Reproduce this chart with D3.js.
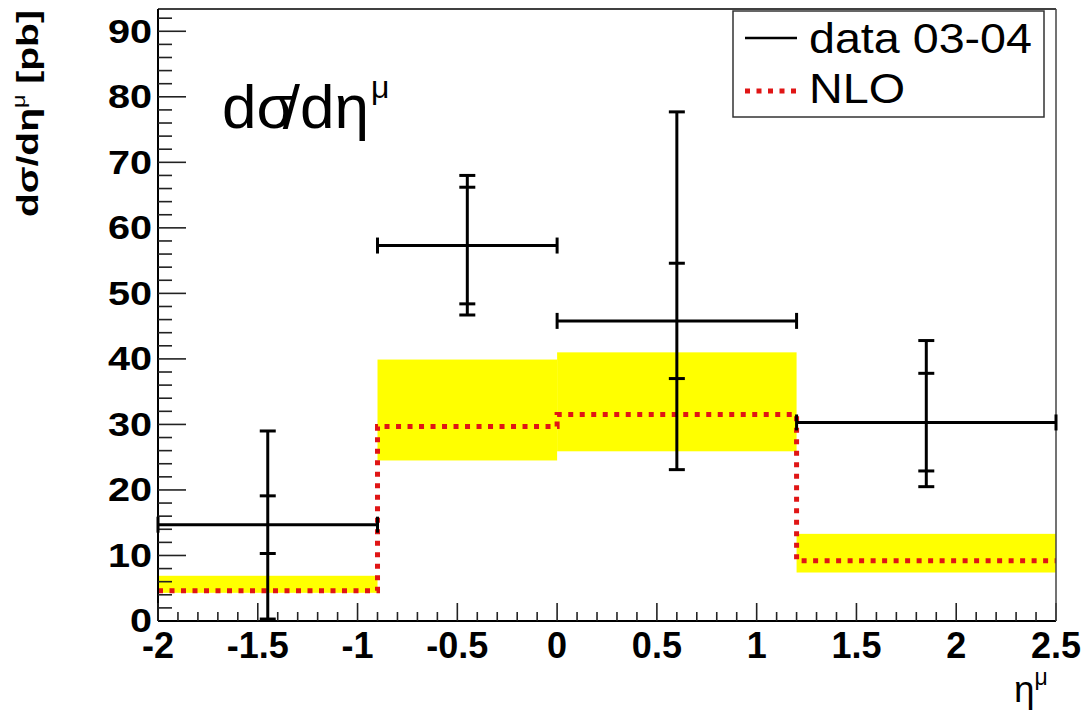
<!DOCTYPE html>
<html>
<head>
<meta charset="utf-8">
<script src="https://cdn.jsdelivr.net/npm/d3@7"></script>
<style>
  html, body { margin: 0; padding: 0; background: #fff; }
  svg { display: block; }
  text { font-family: "Liberation Sans", Arial, Helvetica, sans-serif; }
</style>
</head>
<body>
<svg id="chart" width="1084" height="715"></svg>
<script>
// Bin edges in eta^mu and the measured cross sections per bin
const binEdges = [-2, -0.9, 0, 1.2, 2.5];
const dataX    = [-1.45, -0.45, 0.6, 1.85];
const dataY    = [14.7, 57.3, 45.8, 30.3];
// inner (statistical) and outer (total) error limits
const statHi   = [19.1, 66.2, 54.6, 37.8];
const statLo   = [10.3, 48.4, 37.0, 22.9];
const totHi    = [29.0, 68.0, 77.7, 42.8];
const totLo    = [0.3, 46.7, 23.1, 20.5];
// NLO prediction with its uncertainty band
const nloY     = [4.6, 29.7, 31.5, 9.2];
const nloLo    = [4.3, 24.5, 25.9, 7.4];
const nloHi    = [6.9, 39.9, 41.0, 13.3];
// axis ticks
const yTickLabels = [0, 10, 20, 30, 40, 50, 60, 70, 80, 90];
const xTickLabels = [-2, -1.5, -1, -0.5, 0, 0.5, 1, 1.5, 2, 2.5];

const svg = d3.select("#chart");
const L = 158, R = 1056, T = 9, B = 621;

const x = d3.scaleLinear().domain([-2, 2.5]).range([L, R]);
const y = d3.scaleLinear().domain([0, 93.4]).range([B, T]);

const RED = "#e01515";

// NLO uncertainty band
svg.append("g").selectAll("rect")
  .data(d3.range(nloY.length))
  .join("rect")
  .attr("x", i => x(binEdges[i]))
  .attr("width", i => x(binEdges[i + 1]) - x(binEdges[i]))
  .attr("y", i => y(nloHi[i]))
  .attr("height", i => y(nloLo[i]) - y(nloHi[i]))
  .attr("fill", "#ffff00");

// NLO step line
const stepPts = [];
nloY.forEach((v, i) => {
  stepPts.push([binEdges[i], v]);
  stepPts.push([binEdges[i + 1], v]);
});
svg.append("path")
  .attr("d", d3.line().x(d => x(d[0])).y(d => y(d[1]))(stepPts))
  .attr("fill", "none")
  .attr("stroke", RED)
  .attr("stroke-width", 5)
  .attr("stroke-dasharray", "5,6.5");

// Axes
const yAxis = svg.append("g").attr("transform", `translate(${L},0)`);
yAxis.append("line").attr("x1", 0).attr("x2", 0).attr("y1", T).attr("y2", B)
  .attr("stroke", "#000").attr("stroke-width", 2);
const yMinor = d3.range(0, 93.4, 2).filter(v => v % 10 !== 0);
yAxis.selectAll("line.minor").data(yMinor).join("line").attr("class", "minor")
  .attr("x1", 0).attr("x2", 14).attr("y1", d => y(d)).attr("y2", d => y(d))
  .attr("stroke", "#222").attr("stroke-width", 1.6);
yAxis.selectAll("line.major").data(yTickLabels).join("line").attr("class", "major")
  .attr("x1", 0).attr("x2", 28).attr("y1", d => y(d)).attr("y2", d => y(d))
  .attr("stroke", "#222").attr("stroke-width", 1.6);
yAxis.selectAll("text").data(yTickLabels).join("text")
  .attr("transform", d => `translate(-6,${y(d)}) scale(1.2,1)`)
  .attr("dy", "0.34em")
  .attr("text-anchor", "end")
  .attr("font-size", 33).attr("font-weight", "bold")
  .text(d => d);

const xAxis = svg.append("g").attr("transform", `translate(0,${B})`);
xAxis.append("line").attr("x1", L).attr("x2", R).attr("y1", 0).attr("y2", 0)
  .attr("stroke", "#000").attr("stroke-width", 2);
const xMinor = d3.range(-20, 26).map(v => v / 10).filter(v => Math.abs(v * 2 - Math.round(v * 2)) > 1e-6);
xAxis.selectAll("line.minor").data(xMinor).join("line").attr("class", "minor")
  .attr("x1", d => x(d)).attr("x2", d => x(d)).attr("y1", 0).attr("y2", -9)
  .attr("stroke", "#222").attr("stroke-width", 1.6);
xAxis.selectAll("line.major").data(xTickLabels).join("line").attr("class", "major")
  .attr("x1", d => x(d)).attr("x2", d => x(d)).attr("y1", 0).attr("y2", -18)
  .attr("stroke", "#222").attr("stroke-width", 1.6);
xAxis.selectAll("text").data(xTickLabels).join("text")
  .attr("x", d => x(d)).attr("y", 37)
  .attr("text-anchor", "middle")
  .attr("font-size", 36).attr("font-weight", "bold")
  .text(d => d);

// Frame top and right
svg.append("line").attr("x1", L).attr("x2", R).attr("y1", T).attr("y2", T)
  .attr("stroke", "#000").attr("stroke-width", 1.5);
svg.append("line").attr("x1", R).attr("x2", R).attr("y1", T).attr("y2", B)
  .attr("stroke", "#444").attr("stroke-width", 1.5);

// Data points with error bars
const pts = svg.append("g").attr("stroke", "#000").attr("stroke-width", 3);
const capH = 8, capW = 8;
d3.range(dataY.length).forEach(i => {
  const cx = x(dataX[i]), cy = y(dataY[i]);
  const x0 = x(binEdges[i]), x1 = x(binEdges[i + 1]);
  pts.append("line").attr("x1", x0).attr("x2", x1).attr("y1", cy).attr("y2", cy);
  pts.append("line").attr("x1", x0).attr("x2", x0).attr("y1", cy - capH).attr("y2", cy + capH);
  pts.append("line").attr("x1", x1).attr("x2", x1).attr("y1", cy - capH).attr("y2", cy + capH);
  pts.append("line").attr("x1", cx).attr("x2", cx).attr("y1", y(totHi[i])).attr("y2", y(totLo[i]));
  [totHi[i], totLo[i], statHi[i], statLo[i]].forEach(v => {
    pts.append("line").attr("x1", cx - capW).attr("x2", cx + capW)
      .attr("y1", y(v)).attr("y2", y(v));
  });
});

// Legend
const lg = svg.append("g");
lg.append("rect").attr("x", 733).attr("y", 11).attr("width", 311).attr("height", 106)
  .attr("fill", "#fff").attr("stroke", "#333").attr("stroke-width", 1.5);
lg.append("line").attr("x1", 745).attr("x2", 797).attr("y1", 38).attr("y2", 38)
  .attr("stroke", "#000").attr("stroke-width", 2.5);
lg.append("text").attr("x", 809).attr("y", 53).attr("font-size", 43)
  .attr("textLength", 223).attr("lengthAdjust", "spacingAndGlyphs")
  .text("data 03-04");
lg.append("line").attr("x1", 745).attr("x2", 797).attr("y1", 91).attr("y2", 91)
  .attr("stroke", RED).attr("stroke-width", 5).attr("stroke-dasharray", "5,6.5");
lg.append("text").attr("x", 809).attr("y", 103).attr("font-size", 43)
  .attr("textLength", 96).attr("lengthAdjust", "spacingAndGlyphs")
  .text("NLO");

// In-plot annotation
const ann = svg.append("text").attr("x", 222).attr("y", 128).attr("font-size", 62);
ann.append("tspan").text("d");
ann.append("tspan").text("σ");
ann.append("tspan").attr("dx", -12).text("/");
ann.append("tspan").text("dη");
ann.append("tspan").attr("dy", -30).attr("dx", 2).attr("font-size", 32).text("μ");

// Axis titles
const yt = svg.append("text")
  .attr("font-size", 30).attr("font-weight", "bold");
yt.append("tspan").text("dσ/dη");
yt.append("tspan").attr("dy", -13).attr("font-size", 18).attr("font-weight", "normal").text("μ");
yt.append("tspan").attr("dy", 13).text(" [pb]");
const ytw = yt.node().getBBox().width;
yt.attr("transform", `translate(38,217) rotate(-90) scale(${207 / ytw},1)`);

const xt = svg.append("text").attr("x", 1014).attr("y", 702).attr("font-size", 37);
xt.append("tspan").text("η");
xt.append("tspan").attr("dy", -17).attr("font-size", 23).text("μ");
</script>
</body>
</html>
